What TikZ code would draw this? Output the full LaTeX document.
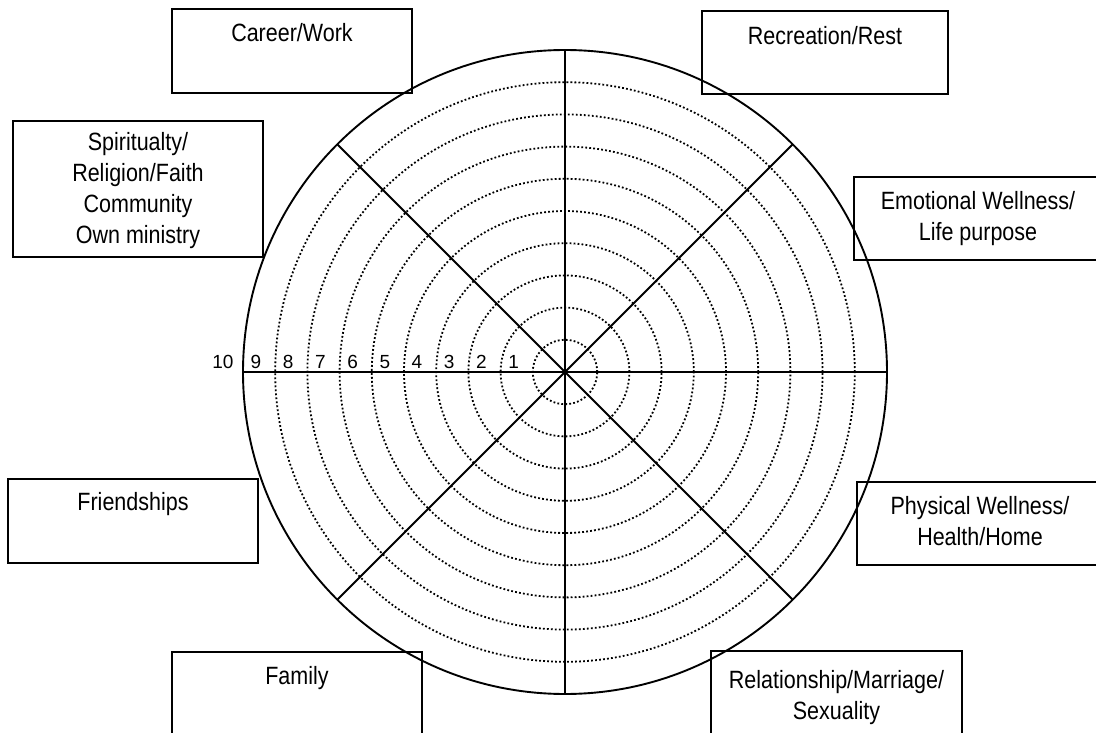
\documentclass[tikz,border=0pt]{standalone}
\usepackage{fontspec}
\setmainfont{Liberation Sans}[FakeStretch=0.86]
\newfontfamily\numfont{Liberation Sans}
\usetikzlibrary{calc}
\begin{document}
\begin{tikzpicture}[x=1pt,y=-1pt,
  box/.style={draw, line width=1.8pt, rectangle, inner sep=0pt, outer sep=0pt, anchor=north west},
  lbl/.style={inner sep=0pt, align=center, font=\fontsize{25pt}{31pt}\selectfont},
  num/.style={inner sep=0pt, anchor=base, font=\numfont\fontsize{19pt}{22pt}\selectfont},
  spoke/.style={line width=1.8pt},
  rim/.style={line width=1.9pt},
  ring/.style={line width=1.8pt, dash pattern=on 1.8pt off 2.2pt}]
\useasboundingbox (0,0) rectangle (1096,733);
\clip (0,0) rectangle (1096,733);
\fill[white] (0,0) rectangle (1096,733);

% wheel centre
\coordinate (C) at (565,372);

% score rings 1..9 and the rim
\foreach \k in {1,...,9}
  \draw[ring] (C) circle[radius=\k*32.2pt];
\draw[rim] (C) circle[radius=322pt];

% eight spokes
\foreach \a in {0,45,90,135}
  \draw[spoke] ($(C)+(\a:322)$) -- ($(C)+(\a+180:322)$);

% scale numbers along the left spoke
\foreach \k in {1,...,9}
  \node[num] (n\k) at ($(C)+({-32.2*(\k+1)+13},-4)$) {\k};
\node[num] (n10) at (223,368) {10};

% life-area boxes
\node[box, minimum width=240pt, minimum height=84pt] (career) at (172,9) {};
\node[box, minimum width=246pt, minimum height=83pt] (recreation) at (702,11) {};
\node[box, minimum width=250pt, minimum height=136pt] (spirit) at (13,121) {};
\node[box, minimum width=248pt, minimum height=83pt] (emotional) at (854,177) {};
\node[box, minimum width=250pt, minimum height=84pt] (friend) at (8,479) {};
\node[box, minimum width=246pt, minimum height=83pt] (physical) at (857,482) {};
\node[box, minimum width=250pt, minimum height=95pt] (family) at (172,652) {};
\node[box, minimum width=251pt, minimum height=95pt] (relation) at (711,651) {};

% box texts
\node[lbl, anchor=north] (careerT) at ([yshift=-14pt]career.north) {Career/Work};
\node[lbl, anchor=north] (recreationT) at ([yshift=-15pt]recreation.north) {Recreation/Rest};
\node[lbl] (spiritT) at ([yshift=-2pt]spirit.center) {Spiritualty/\\Religion/Faith\\Community\\Own ministry};
\node[lbl] (emotionalT) at (emotional.center) {Emotional Wellness/\\Life purpose};
\node[lbl, anchor=north] (friendT) at ([yshift=-13pt]friend.north) {Friendships};
\node[lbl] (physicalT) at ([yshift=2pt]physical.center) {Physical Wellness/\\Health/Home};
\node[lbl, anchor=north] (familyT) at ([yshift=-14pt]family.north) {Family};
\node[lbl, anchor=north] (relationT) at ([yshift=-19pt]relation.north) {Relationship/Marriage/\\Sexuality};
\end{tikzpicture}
\end{document}
